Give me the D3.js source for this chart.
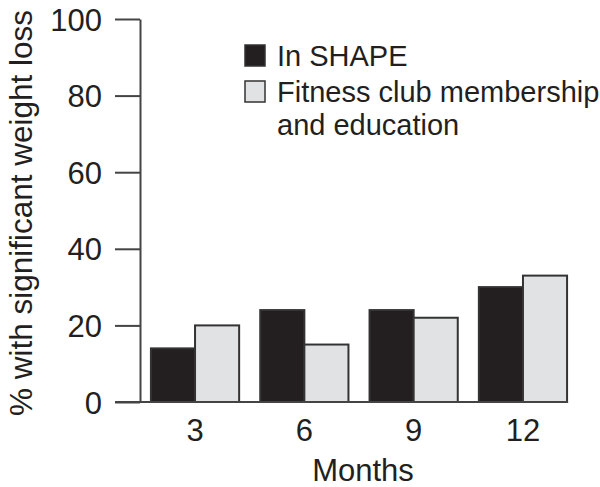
<!DOCTYPE html>
<html>
<head>
<meta charset="utf-8">
<script src="https://cdn.jsdelivr.net/npm/d3@7"></script>
<style>
body { margin: 0; background: #fff; }
text { font-family: "Liberation Sans", Arial, sans-serif; fill: #231f20; }
</style>
</head>
<body>
<svg id="chart" width="600" height="487"></svg>
<script>
// chart values
var months = ["3", "6", "9", "12"];
var seriesNames = ["In SHAPE", "Fitness club membership and education"];
var inShape = [14, 24, 24, 30];
var fitnessClub = [20, 15, 22, 33];
var yTicks = [0, 20, 40, 60, 80, 100];

var svg = d3.select("#chart");

var xScale = d3.scaleBand()
    .domain(months)
    .range([140, 578])
    .paddingInner(0.193)
    .paddingOuter(0.1);

var subScale = d3.scaleBand()
    .domain([0, 1])
    .range([0, xScale.bandwidth()]);

var yScale = d3.scaleLinear()
    .domain([0, 100])
    .range([402, 19]);

var colors = ["#231f20", "#e1e2e4"];

// y axis
var yAxis = d3.axisLeft(yScale)
    .tickValues(yTicks)
    .tickSize(25)
    .tickPadding(13)
    .tickSizeOuter(0);

var gy = svg.append("g")
    .attr("transform", "translate(140,0)")
    .call(yAxis);
gy.select(".domain").attr("stroke", "#444").attr("stroke-width", 2);
gy.selectAll(".tick line").attr("stroke", "#444").attr("stroke-width", 2);
gy.selectAll(".tick text")
    .attr("fill", "#231f20")
    .style("font-size", "31px")
    .attr("dy", "0.36em");

// bars
var rows = months.map(function(m, i) { return {month: m, values: [inShape[i], fitnessClub[i]]}; });

var groups = svg.append("g").selectAll("g")
    .data(rows)
    .enter().append("g")
    .attr("transform", function(d) { return "translate(" + xScale(d.month) + ",0)"; });

groups.selectAll("rect")
    .data(function(d) { return d.values.map(function(v, k) { return {k: k, v: v}; }); })
    .enter().append("rect")
    .attr("x", function(d) { return subScale(d.k); })
    .attr("width", subScale.bandwidth())
    .attr("y", function(d) { return yScale(d.v); })
    .attr("height", function(d) { return yScale(0) - yScale(d.v); })
    .attr("fill", function(d) { return colors[d.k]; })
    .attr("stroke", "#333")
    .attr("stroke-width", 2);

// x axis
var xAxis = d3.axisBottom(xScale)
    .tickSize(0)
    .tickPadding(17)
    .tickSizeOuter(0);

var gx = svg.append("g")
    .attr("transform", "translate(0,402)")
    .call(xAxis);
gx.select(".domain").remove();
gx.selectAll(".tick text")
    .attr("fill", "#231f20")
    .style("font-size", "31px");

svg.append("line")
    .attr("x1", 115).attr("x2", xScale(months[3]) + xScale.bandwidth() + 1)
    .attr("y1", 402).attr("y2", 402)
    .attr("stroke", "#444").attr("stroke-width", 2);

// axis titles
svg.append("text")
    .attr("x", 363).attr("y", 481)
    .attr("text-anchor", "middle")
    .style("font-size", "31px")
    .text("Months");

svg.append("text")
    .attr("transform", "translate(32,213) rotate(-90)")
    .attr("text-anchor", "middle")
    .style("font-size", "31.5px")
    .text("% with significant weight loss");

// legend
var legend = svg.append("g");
legend.append("rect")
    .attr("x", 245).attr("y", 45).attr("width", 20).attr("height", 21)
    .attr("fill", colors[0]).attr("stroke", "#333").attr("stroke-width", 1.5);
legend.append("rect")
    .attr("x", 245).attr("y", 81).attr("width", 20).attr("height", 21)
    .attr("fill", colors[1]).attr("stroke", "#333").attr("stroke-width", 1.5);
legend.append("text")
    .attr("x", 277).attr("y", 66)
    .style("font-size", "29px")
    .text(seriesNames[0]);
legend.append("text")
    .attr("x", 277).attr("y", 102)
    .style("font-size", "29px")
    .text("Fitness club membership");
legend.append("text")
    .attr("x", 277).attr("y", 135)
    .style("font-size", "29px")
    .text("and education");
</script>
</body>
</html>
